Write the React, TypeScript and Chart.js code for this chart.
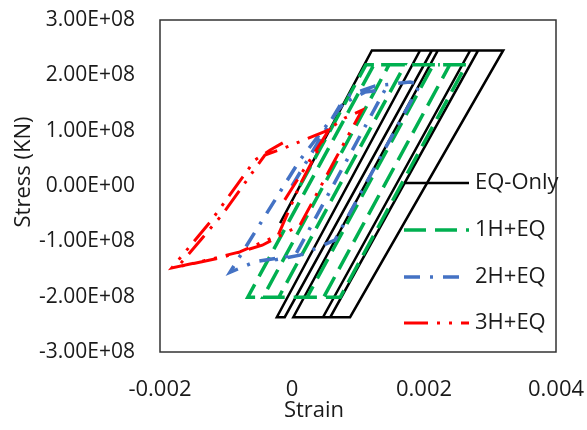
import React, { useEffect, useRef } from 'react';
import { Chart, registerables } from 'chart.js';

Chart.register(...registerables);

const xTickValues = [-0.002, 0, 0.002, 0.004];
const xTickLabels = ['-0.002', '0', '0.002', '0.004'];
const yTickValues = [-3e8, -2e8, -1e8, 0, 1e8, 2e8, 3e8];
const yTickLabels = ['-3.00E+08', '-2.00E+08', '-1.00E+08', '0.00E+00', '1.00E+08', '2.00E+08', '3.00E+08'];

const seriesNames = ['EQ-Only', '1H+EQ', '2H+EQ', '3H+EQ'];
const seriesColors = ['#000000', '#00B050', '#4472C4', '#FF0000'];

const eqStrain = [-0.00018, 0.00121, 0.00212, -0.00011, -0.00023, 0.00194, 0.00282, 0.00058, 0.00002, 0.00221, 0.0032, 0.00088, 0.00047, 0.0027, 0.00285];
const eqStress = [-0.67e8, 2.45e8, 2.45e8, -2.37e8, -2.37e8, 2.45e8, 2.45e8, -2.37e8, -2.37e8, 2.45e8, 2.45e8, -2.37e8, -2.37e8, 2.45e8, 2.45e8];

const h1Strain = [0.00012, 0.00112, 0.00171, -0.0002, -0.00067, 0.00124, 0.00239, 0.00048, -0.00044, 0.00147, 0.00264, 0.00073, 0.00023, 0.00214, 0.00224];
const h1Stress = [0, 2.19e8, 2.19e8, -2.01e8, -2.01e8, 2.19e8, 2.19e8, -2.01e8, -2.01e8, 2.19e8, 2.19e8, -2.01e8, -2.01e8, 2.19e8, 2.19e8];

const h2Strain = [0, 0.00073, 0.00111, 0.00141, 0.00005, -0.00056, -0.00094, 0.00012, 0.00088, 0.00126, 0.00179, 0.00194, 0.00065, 0.00012, -0.00041];
const h2Stress = [0, 1.46e8, 1.7e8, 1.74e8, -1.25e8, -1.37e8, -1.56e8, 0.47e8, 1.65e8, 1.81e8, 1.88e8, 1.83e8, -0.98e8, -1.25e8, -1.37e8];

const h3Strain = [-0.00011, 0.00058, 0.0008, 0.00106, 0.00065, 0.00012, -0.00045, -0.00109, -0.00173, -0.00106, -0.00041, -0.00011, 0.00055, 0.00012, -0.00021, -0.00079, -0.00139, -0.00182, -0.00124, -0.00056, -0.00033, -0.00014];
const h3Stress = [-0.25e8, 1.05e8, 1.23e8, 1.37e8, 0.47e8, -0.71e8, -1.07e8, -1.3e8, -1.46e8, -0.52e8, 0.56e8, 0.69e8, 1.01e8, 0.02e8, -0.89e8, -1.19e8, -1.37e8, -1.48e8, -0.65e8, 0.47e8, 0.65e8, 0.78e8];

const seriesStrain = [eqStrain, h1Strain, h2Strain, h3Strain];
const seriesStress = [eqStress, h1Stress, h2Stress, h3Stress];

const dashPatterns: number[][] = [[], [22, 9], [16, 10, 3, 10], [24, 9, 3, 9, 3, 9]];
const lineWidths = [2.5, 3.5, 3.5, 3];

const FONT = "'Open Sans', sans-serif";
const FS = 22;
const TEXT = '#1a1a1a';

const overlay = {
  id: 'overlay',
  afterDraw(chart: any) {
    const { ctx, chartArea } = chart;
    ctx.save();
    ctx.strokeStyle = '#333333';
    ctx.lineWidth = 1.5;
    ctx.setLineDash([]);
    ctx.strokeRect(chartArea.left, chartArea.top, chartArea.right - chartArea.left, chartArea.bottom - chartArea.top);
    ctx.fillStyle = TEXT;
    ctx.font = `${FS}px ${FONT}`;
    ctx.textAlign = 'center';
    ctx.textBaseline = 'middle';
    ctx.fillText('Strain', 314, 411);
    ctx.save();
    ctx.translate(24, 172);
    ctx.rotate(-Math.PI / 2);
    ctx.fillText('Stress (KN)', 0, 0);
    ctx.restore();
    const ys = [183, 230, 277, 323];
    seriesNames.forEach((name, i) => {
      ctx.beginPath();
      ctx.strokeStyle = seriesColors[i];
      ctx.lineWidth = lineWidths[i];
      ctx.setLineDash(dashPatterns[i]);
      ctx.moveTo(404, ys[i]);
      ctx.lineTo(469, ys[i]);
      ctx.stroke();
      ctx.setLineDash([]);
      ctx.fillStyle = TEXT;
      ctx.textAlign = 'left';
      ctx.fillText(name, 475, ys[i]);
    });
    ctx.restore();
  },
};

export default function App() {
  const ref = useRef<HTMLCanvasElement | null>(null);
  useEffect(() => {
    if (!ref.current) return;
    const datasets = seriesNames.map((name, i) => ({
      label: name,
      data: seriesStrain[i].map((x, j) => ({ x, y: seriesStress[i][j] })),
      showLine: true,
      borderColor: seriesColors[i],
      backgroundColor: seriesColors[i],
      borderWidth: lineWidths[i],
      borderDash: dashPatterns[i],
      pointRadius: 0,
      tension: 0,
      fill: false,
      order: 4 - i,
    }));
    const chart = new Chart(ref.current, {
      type: 'scatter',
      data: { datasets },
      options: {
        animation: false,
        responsive: false,
        devicePixelRatio: 1,
        layout: { padding: { top: 20, right: 31, left: 0, bottom: 0 } },
        plugins: { legend: { display: false }, tooltip: { enabled: false } },
        scales: {
          x: {
            type: 'linear',
            min: -0.002,
            max: 0.004,
            afterFit: (s: any) => { s.height = 78; s.paddingLeft = 0; s.paddingRight = 0; s.paddingTop = 0; s.paddingBottom = 0; },
            afterBuildTicks: (s: any) => { s.ticks = xTickValues.map((v) => ({ value: v })); },
            grid: { display: false },
            border: { display: false },
            ticks: {
              padding: 17,
              color: TEXT,
              font: { family: FONT, size: FS },
              maxRotation: 0,
              callback: (v: any) => { const k = xTickValues.findIndex((t) => Math.abs(t - v) < 1e-9); return k >= 0 ? xTickLabels[k] : ''; },
            },
          },
          y: {
            type: 'linear',
            min: -3e8,
            max: 3e8,
            afterFit: (s: any) => { s.width = 160; s.paddingLeft = 0; s.paddingRight = 0; s.paddingTop = 0; s.paddingBottom = 0; },
            afterBuildTicks: (s: any) => { s.ticks = yTickValues.map((v) => ({ value: v })); },
            grid: { display: false },
            border: { display: false },
            ticks: {
              padding: 17,
              color: TEXT,
              font: { family: FONT, size: 21 },
              callback: (v: any) => { const k = yTickValues.findIndex((t) => Math.abs(t - v) < 1); return k >= 0 ? yTickLabels[k] : ''; },
            },
          },
        },
      },
      plugins: [overlay],
    });
    return () => chart.destroy();
  }, []);
  return (
    <div style={{ position: 'fixed', left: 0, top: 0, width: 587, height: 430, background: '#fff' }}>
      <canvas ref={ref} width={587} height={430} />
    </div>
  );
}
